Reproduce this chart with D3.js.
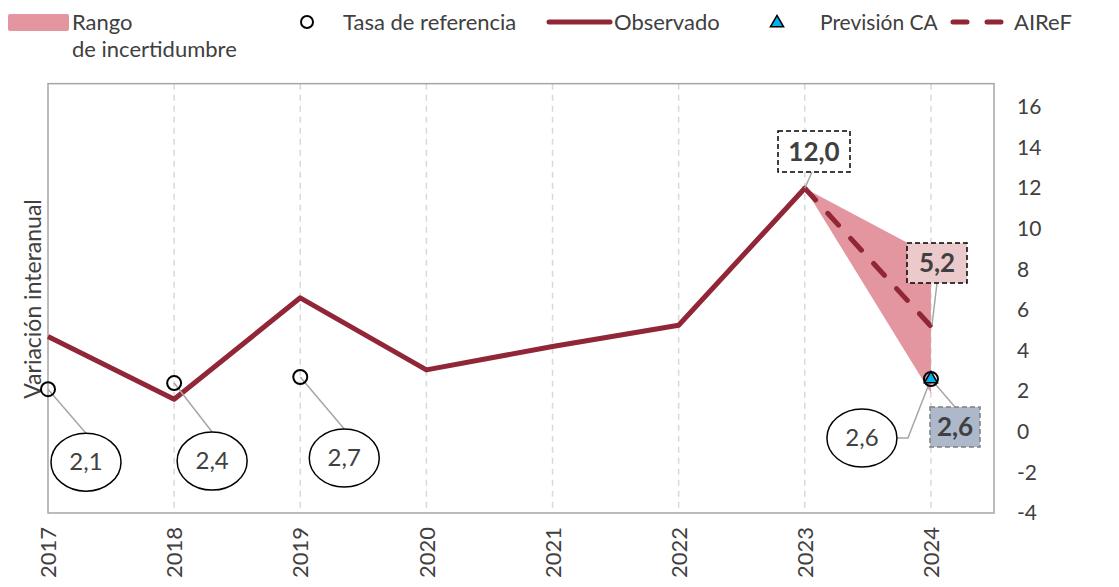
<!DOCTYPE html>
<html>
<head>
<meta charset="utf-8">
<script src="https://cdn.jsdelivr.net/npm/d3@7"></script>
<style>
  body { margin: 0; background: #fff; }
  text { font-family: Lato, "Open Sans", sans-serif; fill: #404040; }
</style>
</head>
<body>
<script>
// data
const years = [2017, 2018, 2019, 2020, 2021, 2022, 2023, 2024];
const observado = [4.7, 1.6, 6.6, 3.05, 4.2, 5.25, 12.0];
const tasaYears = [2017, 2018, 2019, 2024];
const tasaRef = [2.1, 2.4, 2.7, 2.6];
const airefYears = [2023, 2024];
const airef = [12.0, 5.2];
const rangoUpper = [12.0, 8.7];
const rangoLower = [12.0, 1.9];
const previsionCA = [{ year: 2024, value: 2.6 }];
const yTicks = [-4, -2, 0, 2, 4, 6, 8, 10, 12, 14, 16];

const w = 1119, h = 587;
const dark = "#912637";
const pink = "#e3969f";

const svg = d3.select("body").append("svg").attr("width", w).attr("height", h);

const x = d3.scaleLinear().domain([2017, 2024.5]).range([48, 994]);
const y = d3.scaleLinear().domain([-4, 16]).range([513, 107]);
const fmt = (v) => d3.format(".1f")(v).replace(".", ",");

// vertical grid
svg.append("g")
  .selectAll("line")
  .data(years.slice(1))
  .enter()
  .append("line")
  .attr("x1", (d) => x(d)).attr("x2", (d) => x(d))
  .attr("y1", y(17.15)).attr("y2", y(-4))
  .attr("stroke", "#d9d9d9")
  .attr("stroke-width", 1.5)
  .attr("stroke-dasharray", "6,5");

// frame
svg.append("rect")
  .attr("x", x(2017)).attr("y", y(17.15))
  .attr("width", x(2024.5) - x(2017))
  .attr("height", y(-4) - y(17.15))
  .attr("fill", "none")
  .attr("stroke", "#a6a6a6")
  .attr("stroke-width", 1.5);

// right y axis
const yAxis = svg.append("g")
  .attr("transform", `translate(${x(2024.5)},0)`)
  .call(d3.axisRight(y).tickValues(yTicks).tickSize(0).tickPadding(23).tickFormat((d) => String(d)));
yAxis.select(".domain").remove();
yAxis.selectAll("text")
  .style("font-family", "Lato, sans-serif")
  .style("font-size", "21px")
  .attr("fill", "#404040");

// x axis labels (rotated)
const xAxis = svg.append("g")
  .attr("transform", `translate(0,${y(-4)})`)
  .call(d3.axisBottom(x).tickValues(years).tickSize(0).tickFormat((d) => String(d)));
xAxis.select(".domain").remove();
xAxis.selectAll("text")
  .style("font-family", "Lato, sans-serif")
  .style("font-size", "22px")
  .attr("fill", "#404040")
  .attr("text-anchor", "end")
  .attr("transform", "rotate(-90)")
  .attr("x", -14)
  .attr("y", 0)
  .attr("dy", "0.35em");

// y title
svg.append("text")
  .attr("transform", "translate(41,299) rotate(-90)")
  .attr("text-anchor", "middle")
  .style("font-size", "23px")
  .text("Variación interanual");

// uncertainty range
const area = d3.area()
  .x((d) => x(d.year))
  .y0((d) => y(d.lo))
  .y1((d) => y(d.hi));
svg.append("path")
  .datum(airefYears.map((yr, i) => ({ year: yr, lo: rangoLower[i], hi: rangoUpper[i] })))
  .attr("d", area)
  .attr("fill", pink);

// observed line
const line = d3.line().x((d) => x(d[0])).y((d) => y(d[1]));
svg.append("path")
  .datum(observado.map((v, i) => [years[i], v]))
  .attr("d", line)
  .attr("fill", "none")
  .attr("stroke", dark)
  .attr("stroke-width", 5)
  .attr("stroke-linejoin", "round");

// AIReF dashed
svg.append("path")
  .datum(airef.map((v, i) => [airefYears[i], v]))
  .attr("d", line)
  .attr("fill", "none")
  .attr("stroke", dark)
  .attr("stroke-width", 5)
  .attr("stroke-linecap", "round")
  .attr("stroke-dasharray", "16,18");

// leader lines and labels
const leader = (pts) => svg.append("path")
  .attr("d", d3.line()(pts))
  .attr("fill", "none")
  .attr("stroke", "#a6a6a6")
  .attr("stroke-width", 1.5);

// ellipse labels for tasa de referencia
const ellipseOffsets = [[38, 73], [38, 78], [44, 81], [-69, 59]];
tasaYears.forEach((yr, i) => {
  const px = x(yr), py = y(tasaRef[i]);
  const cx = px + ellipseOffsets[i][0], cy = py + ellipseOffsets[i][1];
  if (i < 3) {
    leader([[px, py], [cx, cy - 29]]);
  } else {
    leader([[px, py], [cx + 46, cy], [cx + 35, cy]]);
  }
  svg.append("ellipse")
    .attr("cx", cx).attr("cy", cy).attr("rx", 35).attr("ry", 29)
    .attr("fill", "#fff").attr("stroke", "#000").attr("stroke-width", 1.5);
  svg.append("text")
    .attr("x", cx).attr("y", cy + 8)
    .attr("text-anchor", "middle")
    .style("font-size", "24px")
    .text(fmt(tasaRef[i]));
});

// boxed labels
const boxLabel = (bx, by, bw, bh, txt, fill, stroke, lead) => {
  leader(lead);
  svg.append("rect")
    .attr("x", bx).attr("y", by).attr("width", bw).attr("height", bh)
    .attr("fill", fill).attr("stroke", stroke)
    .attr("stroke-width", 1.5).attr("stroke-dasharray", "5,3");
  svg.append("text")
    .attr("x", bx + bw / 2).attr("y", by + bh / 2 + 9)
    .attr("text-anchor", "middle")
    .style("font-size", "26px")
    .style("font-weight", "bold")
    .text(txt);
};
boxLabel(778, 131, 72, 41, fmt(observado[6]), "#fff", "#000",
  [[812, 172], [x(2023), y(observado[6])]]);
boxLabel(907, 243, 60, 40, fmt(airef[1]), "#ecc9cb", "#000",
  [[937, 283], [932, 325]]);
boxLabel(930, 407, 50, 40, fmt(previsionCA[0].value), "#adb9ca", "#7f7f7f",
  [[955, 407], [x(2024), y(previsionCA[0].value)]]);

// reference circles
svg.append("g")
  .selectAll("circle")
  .data(tasaRef)
  .enter()
  .append("circle")
  .attr("cx", (d, i) => x(tasaYears[i]))
  .attr("cy", (d) => y(d))
  .attr("r", 7)
  .attr("fill", "none")
  .attr("stroke", "#000")
  .attr("stroke-width", 2);

// CA forecast triangle
const tri = d3.symbol().type(d3.symbolTriangle).size(75);
svg.append("g")
  .selectAll("path")
  .data(previsionCA)
  .enter()
  .append("path")
  .attr("d", tri)
  .attr("transform", (d) => `translate(${x(d.year)},${y(d.value)})`)
  .attr("fill", "#00b0f0")
  .attr("stroke", "#000")
  .attr("stroke-width", 1.5);

// legend
const lg = svg.append("g");
lg.append("rect").attr("x", 8).attr("y", 14).attr("width", 61).attr("height", 17).attr("rx", 2).attr("fill", pink);
lg.append("text").attr("x", 72).attr("y", 30).style("font-size", "22px").text("Rango");
lg.append("text").attr("x", 72).attr("y", 57).style("font-size", "22px").text("de incertidumbre");
lg.append("circle").attr("cx", 307).attr("cy", 22).attr("r", 6).attr("fill", "none").attr("stroke", "#000").attr("stroke-width", 2);
lg.append("text").attr("x", 343).attr("y", 30).style("font-size", "22px").text("Tasa de referencia");
lg.append("line").attr("x1", 549).attr("x2", 610).attr("y1", 22).attr("y2", 22)
  .attr("stroke", dark).attr("stroke-width", 5).attr("stroke-linecap", "round");
lg.append("text").attr("x", 614).attr("y", 30).style("font-size", "22px").text("Observado");
lg.append("path").attr("d", d3.symbol().type(d3.symbolTriangle).size(75))
  .attr("transform", "translate(777,23)")
  .attr("fill", "#00b0f0").attr("stroke", "#000").attr("stroke-width", 1.5);
lg.append("text").attr("x", 820).attr("y", 30).style("font-size", "21px").text("Previsión CA");
lg.append("line").attr("x1", 953).attr("x2", 1003).attr("y1", 22).attr("y2", 22)
  .attr("stroke", dark).attr("stroke-width", 5).attr("stroke-linecap", "round")
  .attr("stroke-dasharray", "14,20");
lg.append("text").attr("x", 1014).attr("y", 30).style("font-size", "22px").text("AIReF");
</script>
</body>
</html>
